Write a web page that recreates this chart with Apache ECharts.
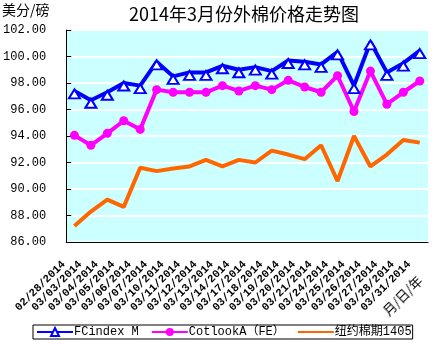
<!DOCTYPE html>
<html>
<head>
<meta charset="utf-8">
<script src="https://cdn.jsdelivr.net/npm/echarts@6/dist/echarts.min.js"></script>
<style>
  html, body { margin: 0; padding: 0; background: #fff; }
  #wrap { position: relative; width: 435px; height: 345px; }
  #chart { width: 435px; height: 345px; }
  #dateUnit {
    position: absolute; left: 389px; top: 304px;
    font: 13px/13px "Noto Sans CJK SC", sans-serif; color: #000; white-space: nowrap;
    transform-origin: 0 100%; transform: rotate(-45deg);
  }
</style>
</head>
<body>
<div id="wrap">
  <div id="chart"></div>
  <div id="dateUnit"></div>
</div>
<script>
// Trading dates (month/day/year)
const dates = ['02/28/2014', '03/03/2014', '03/04/2014', '03/05/2014', '03/06/2014', '03/07/2014',
  '03/10/2014', '03/11/2014', '03/12/2014', '03/13/2014', '03/14/2014', '03/17/2014',
  '03/18/2014', '03/19/2014', '03/20/2014', '03/21/2014', '03/24/2014', '03/25/2014',
  '03/26/2014', '03/27/2014', '03/28/2014', '03/31/2014'];

// Prices, US cents per pound
const fcindexM = [97.4, 96.7, 97.3, 98.0, 97.8, 99.6, 98.5, 98.8, 98.8, 99.3, 99.0, 99.2,
  98.9, 99.7, 99.6, 99.4, 100.35, 97.8, 101.1, 98.8, 99.5, 100.45];
const cotlookA = [94.05, 93.3, 94.2, 95.15, 94.5, 97.5, 97.3, 97.3, 97.3, 97.8, 97.4, 97.8,
  97.5, 98.2, 97.7, 97.3, 98.55, 95.85, 98.9, 96.4, 97.3, 98.15];
const nyFutures1405 = [87.2, 88.3, 89.2, 88.65, 91.6, 91.35, 91.55, 91.7, 92.2, 91.7, 92.2, 92.0,
  92.9, 92.6, 92.25, 93.3, 90.6, 94.0, 91.7, 92.6, 93.7, 93.5];

const seriesNames = ['FCindex M', 'CotlookA（FE）', '纽约棉期1405'];
const yTicks = { min: 86, max: 102, step: 2 };
const dateUnitText = '月/日/年';

const FONT = '"Liberation Mono", "Noto Sans CJK SC", monospace';
const CJK = '"Noto Sans CJK SC", sans-serif';

// caption for the date format, set diagonally below the last dates
document.getElementById('dateUnit').textContent = dateUnitText;

const chart = echarts.init(document.getElementById('chart'), null, { renderer: 'canvas' });

chart.setOption({
  animation: false,
  backgroundColor: '#ffffff',
  title: {
    text: '2014年3月份外棉价格走势图',
    left: 239, top: 0, textAlign: 'center',
    textStyle: { fontFamily: CJK, fontSize: 18, fontWeight: 'normal', color: '#000' }
  },
  graphic: [
    { type: 'text', left: 2, top: 3,
      style: { text: '美分/磅', font: '14px "Noto Sans CJK SC", sans-serif', fill: '#000' } }
  ],
  legend: {
    data: [
      { name: seriesNames[0] },
      { name: seriesNames[1] },
      { name: seriesNames[2], itemStyle: { opacity: 0 } }
    ],
    left: 33, top: 325, width: 430,
    itemGap: 12, itemWidth: 36, itemHeight: 10,
    padding: [1, 1, 1, 3],
    borderColor: '#000', borderWidth: 1, borderRadius: 0,
    textStyle: { fontFamily: FONT, fontSize: 12, color: '#000', padding: [0, 0, 0, -4] }
  },
  grid: { left: 65, right: 7, top: 30, bottom: 103, containLabel: false,
          show: true, backgroundColor: '#CCFFFF', borderWidth: 0 },
  xAxis: {
    type: 'category',
    data: dates,
    boundaryGap: true,
    axisLine: { lineStyle: { color: '#000', width: 1 } },
    axisTick: { inside: true, length: 5, alignWithLabel: false, lineStyle: { color: '#000' } },
    axisLabel: { rotate: 45, interval: 0, fontFamily: FONT, fontSize: 11, fontWeight: 'bold',
                 color: '#000', margin: 10, padding: [0, 15, 0, 0] },
    splitLine: { show: false }
  },
  yAxis: {
    type: 'value',
    min: yTicks.min, max: yTicks.max, interval: yTicks.step,
    axisLine: { show: true, lineStyle: { color: '#000', width: 1 } },
    axisTick: { show: true, inside: true, length: 5, lineStyle: { color: '#000' } },
    axisLabel: { formatter: v => v.toFixed(2), fontFamily: FONT, fontSize: 12, color: '#000', margin: 20 },
    splitLine: { show: true, lineStyle: { color: '#ffffff', width: 2 } }
  },
  series: [
    { name: seriesNames[0], type: 'line', data: fcindexM,
      symbol: 'emptyTriangle', symbolSize: [11, 9], symbolOffset: [0, 3], showAllSymbol: true,
      lineStyle: { color: '#0000FF', width: 4 },
      itemStyle: { color: '#0000FF', borderColor: '#0000FF', borderWidth: 1.2 }, z: 3 },
    { name: seriesNames[1], type: 'line', data: cotlookA,
      symbol: 'circle', symbolSize: 9, showAllSymbol: true,
      lineStyle: { color: '#FF00FF', width: 4 },
      itemStyle: { color: '#FF00FF' }, z: 2 },
    { name: seriesNames[2], type: 'line', data: nyFutures1405,
      symbol: 'none',
      lineStyle: { color: '#FF6600', width: 4 },
      itemStyle: { color: '#FF6600' }, z: 1 }
  ]
});
</script>
</body>
</html>
